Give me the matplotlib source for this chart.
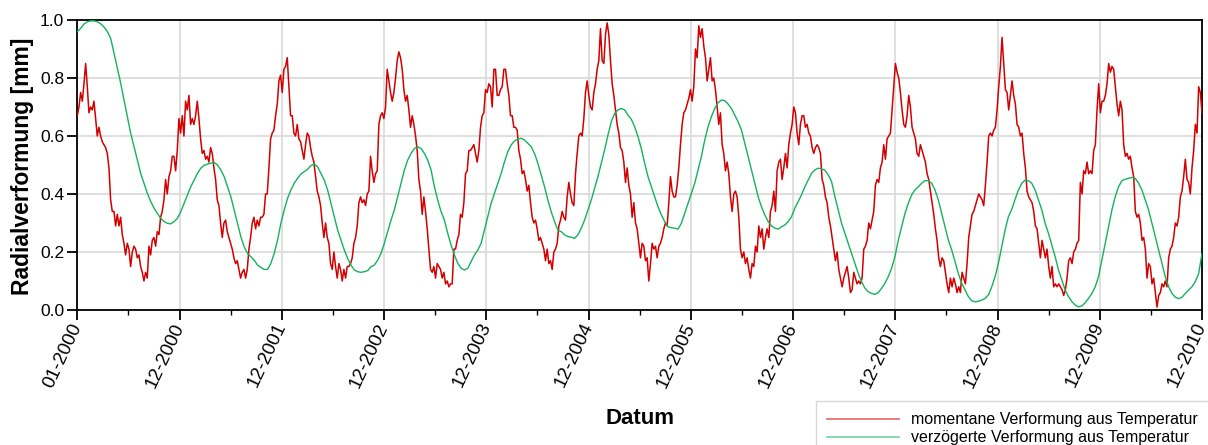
import numpy as np
import matplotlib
matplotlib.use("Agg")
import matplotlib.pyplot as plt
from matplotlib.lines import Line2D

plt.rcParams["font.family"] = ["Liberation Sans", "DejaVu Sans"]

# momentary radial deformation from temperature [mm], evenly sampled 01-2000 .. end of 2010
radial_now = [
    0.67, 0.70, 0.75, 0.72, 0.78, 0.85, 0.77, 0.68, 0.70, 0.69, 0.72, 0.66, 0.60, 0.63, 0.60,
    0.58, 0.57, 0.56, 0.54, 0.49, 0.38, 0.34, 0.34, 0.29, 0.33, 0.29, 0.32, 0.26, 0.23, 0.19,
    0.23, 0.21, 0.15, 0.20, 0.22, 0.21, 0.18, 0.19, 0.15, 0.13, 0.10, 0.13, 0.11, 0.22, 0.19,
    0.24, 0.25, 0.22, 0.27, 0.26, 0.32, 0.34, 0.38, 0.45, 0.40, 0.46, 0.48, 0.53, 0.53, 0.48,
    0.55, 0.66, 0.61, 0.67, 0.60, 0.72, 0.69, 0.74, 0.64, 0.66, 0.64, 0.67, 0.72, 0.66, 0.59,
    0.54, 0.55, 0.52, 0.53, 0.51, 0.56, 0.54, 0.49, 0.45, 0.38, 0.36, 0.30, 0.25, 0.30, 0.31,
    0.27, 0.25, 0.23, 0.21, 0.18, 0.16, 0.17, 0.14, 0.11, 0.13, 0.14, 0.11, 0.14, 0.21, 0.25,
    # 2001
    0.30, 0.32, 0.28, 0.31, 0.29, 0.32, 0.32, 0.33, 0.40, 0.40,
    0.49, 0.59, 0.61, 0.62, 0.67, 0.71, 0.79, 0.81, 0.75, 0.83,
    0.84, 0.87, 0.77, 0.67, 0.67, 0.61, 0.60, 0.64, 0.59, 0.58,
    0.55, 0.52, 0.57, 0.61, 0.60, 0.56, 0.53, 0.51, 0.46, 0.41,
    0.39, 0.36, 0.30, 0.25, 0.30, 0.25, 0.23, 0.16, 0.14, 0.20,
    0.15, 0.11, 0.16, 0.14, 0.10, 0.14, 0.11, 0.15, 0.15, 0.16,
    0.18, 0.23, 0.25, 0.29, 0.37, 0.39, 0.37, 0.38, 0.36, 0.40,
    0.41, 0.53, 0.48, 0.44, 0.47, 0.48, 0.64, 0.67, 0.68, 0.66,
    0.70, 0.83, 0.79, 0.75, 0.72, 0.75, 0.80, 0.86, 0.89, 0.87,
    0.83, 0.76, 0.72, 0.74, 0.69, 0.63, 0.67, 0.64, 0.60, 0.55,
    0.45, 0.41, 0.33, 0.39, 0.34, 0.28, 0.21, 0.14, 0.13, 0.15,
    0.11, 0.16, 0.15, 0.14,
    # 2003
    0.11, 0.13, 0.09, 0.10, 0.08, 0.09, 0.09, 0.21, 0.21, 0.24,
    0.26, 0.33, 0.32, 0.37, 0.47, 0.48, 0.55, 0.55, 0.56, 0.57,
    0.54, 0.51, 0.55, 0.63, 0.67, 0.68, 0.76, 0.75, 0.78, 0.77,
    0.70, 0.83, 0.83, 0.74, 0.74, 0.76, 0.77, 0.83, 0.83, 0.78,
    0.74, 0.67, 0.67, 0.63, 0.63, 0.62, 0.55, 0.52, 0.47, 0.48,
    0.45, 0.41, 0.43, 0.37, 0.32, 0.30, 0.31, 0.28, 0.24, 0.25,
    0.23, 0.21, 0.17, 0.21, 0.16, 0.17, 0.14, 0.20, 0.21, 0.23,
    0.29, 0.31, 0.34, 0.32, 0.31, 0.39, 0.44, 0.40, 0.37, 0.36,
    0.47, 0.54, 0.60, 0.61, 0.60, 0.66, 0.75, 0.79, 0.74, 0.70,
    0.69, 0.75, 0.78, 0.83, 0.86, 0.97, 0.86, 0.85, 0.95, 0.99,
    0.95, 0.86, 0.78, 0.74, 0.69, 0.64, 0.61, 0.56, 0.55, 0.51,
    0.44, 0.49, 0.43, 0.40, 0.32, 0.37, 0.30, 0.28, 0.23, 0.18,
    # 2005
    0.23, 0.22, 0.17, 0.18, 0.10, 0.16, 0.23, 0.21, 0.22, 0.18,
    0.22, 0.23, 0.25, 0.28, 0.30, 0.29, 0.37, 0.46, 0.41, 0.39,
    0.39, 0.43, 0.49, 0.57, 0.64, 0.68, 0.69, 0.71, 0.73, 0.76,
    0.72, 0.77, 0.90, 0.87, 0.98, 0.94, 0.97, 0.91, 0.87, 0.79,
    0.83, 0.87, 0.79, 0.80, 0.76, 0.70, 0.64, 0.68, 0.57, 0.54,
    0.48, 0.51, 0.47, 0.39, 0.34, 0.40, 0.41, 0.39, 0.32, 0.21,
    0.18, 0.20, 0.16, 0.18, 0.14, 0.11, 0.16, 0.15, 0.22, 0.20,
    0.29, 0.25, 0.28, 0.21, 0.25, 0.28, 0.25, 0.34, 0.36, 0.41,
    0.34, 0.48, 0.51, 0.52, 0.45, 0.49, 0.54, 0.49, 0.57, 0.61,
    0.64, 0.70, 0.68, 0.61, 0.57, 0.64, 0.67, 0.67, 0.63, 0.64,
    0.61, 0.60, 0.56, 0.54, 0.56, 0.57, 0.56, 0.54, 0.45, 0.43,
    0.39, 0.37, 0.32, 0.29,
    # 2007
    0.25, 0.21, 0.17, 0.20, 0.14, 0.11, 0.08, 0.11, 0.13, 0.15,
    0.11, 0.06, 0.07, 0.13, 0.11, 0.09, 0.10, 0.09, 0.11, 0.21,
    0.22, 0.24, 0.30, 0.28, 0.31, 0.34, 0.43, 0.45, 0.44, 0.49,
    0.51, 0.57, 0.52, 0.59, 0.60, 0.61, 0.69, 0.77, 0.85, 0.82,
    0.80, 0.75, 0.69, 0.64, 0.63, 0.67, 0.74, 0.70, 0.63, 0.61,
    0.59, 0.54, 0.53, 0.57, 0.55, 0.53, 0.51, 0.47, 0.45, 0.41,
    0.37, 0.33, 0.28, 0.24, 0.18, 0.15, 0.18, 0.17, 0.13, 0.09,
    0.06, 0.11, 0.08, 0.11, 0.09, 0.06, 0.08, 0.06, 0.13, 0.11,
    0.09, 0.16, 0.25, 0.29, 0.33, 0.34, 0.36, 0.38, 0.40, 0.39,
    0.38, 0.36, 0.43, 0.51, 0.60, 0.61, 0.60, 0.62, 0.63, 0.69,
    0.77, 0.84, 0.94, 0.85, 0.76, 0.75, 0.69, 0.74, 0.79, 0.74,
    0.71, 0.64, 0.63, 0.60,
    # 2009
    0.61, 0.54, 0.49, 0.41, 0.39, 0.38, 0.37, 0.34, 0.29, 0.28,
    0.23, 0.18, 0.24, 0.21, 0.18, 0.21, 0.15, 0.11, 0.15, 0.08,
    0.09, 0.08, 0.09, 0.08, 0.07, 0.05, 0.07, 0.11, 0.17, 0.18,
    0.16, 0.20, 0.21, 0.23, 0.24, 0.44, 0.40, 0.48, 0.47, 0.51,
    0.47, 0.48, 0.47, 0.55, 0.57, 0.69, 0.78, 0.68, 0.72, 0.72,
    0.74, 0.78, 0.85, 0.82, 0.84, 0.83, 0.77, 0.71, 0.67, 0.72,
    0.69, 0.57, 0.53, 0.54, 0.52, 0.53, 0.49, 0.46, 0.34, 0.32,
    0.33, 0.30, 0.24, 0.25, 0.21, 0.11, 0.16, 0.15, 0.09, 0.11,
    0.06, 0.01, 0.05, 0.06, 0.09, 0.08, 0.10, 0.08, 0.18, 0.21,
    0.22, 0.25, 0.30, 0.29, 0.32, 0.39, 0.41, 0.46, 0.52, 0.45,
    0.44, 0.40, 0.49, 0.55, 0.64, 0.61, 0.77, 0.75, 0.68,
]

# delayed radial deformation from temperature [mm], evenly sampled over the same period
radial_lagged = [
    0.960,
    0.971, 0.986, 0.994, 0.997, 0.997, 0.994, 0.987, 0.976, 0.960, 0.937,
    0.885, 0.833, 0.782, 0.724, 0.667, 0.609, 0.563, 0.517, 0.471, 0.437,
    0.402, 0.374, 0.351, 0.333, 0.316, 0.305, 0.299, 0.297, 0.305, 0.316,
    0.339, 0.368, 0.397, 0.425, 0.448, 0.471, 0.489, 0.499, 0.503, 0.506,
    0.509, 0.500, 0.483, 0.460, 0.425, 0.391, 0.345, 0.299, 0.253, 0.218,
    0.195, 0.184,
    0.172, 0.155, 0.147, 0.140, 0.140, 0.161, 0.195, 0.241, 0.299, 0.345,
    0.385, 0.414, 0.437, 0.454, 0.469, 0.477, 0.485, 0.498, 0.503, 0.494,
    0.471, 0.448, 0.414, 0.368, 0.322, 0.276, 0.241, 0.207, 0.178, 0.155,
    0.138, 0.132, 0.130, 0.132, 0.136, 0.149, 0.155, 0.172, 0.195, 0.230,
    0.270, 0.310, 0.345, 0.391, 0.437, 0.483, 0.517, 0.540, 0.557, 0.563,
    0.557, 0.540, 0.517, 0.483, 0.425, 0.379, 0.339,
    0.310, 0.264, 0.224, 0.190, 0.161, 0.144, 0.138, 0.144, 0.167, 0.190,
    0.207, 0.230, 0.276, 0.322, 0.368, 0.402, 0.437, 0.471, 0.511, 0.546,
    0.569, 0.583, 0.590, 0.592, 0.586, 0.575, 0.563, 0.540, 0.506, 0.466,
    0.425, 0.379, 0.339, 0.305, 0.276, 0.270, 0.259, 0.253, 0.251, 0.247,
    0.259, 0.282, 0.310, 0.345, 0.379, 0.420, 0.460, 0.506, 0.552, 0.603,
    0.649, 0.678, 0.690, 0.695, 0.690, 0.672, 0.658,
    0.632, 0.598, 0.557, 0.506, 0.460, 0.425, 0.391, 0.356, 0.328, 0.305,
    0.287, 0.284, 0.282, 0.279, 0.299, 0.333, 0.368, 0.402, 0.437, 0.483,
    0.529, 0.586, 0.632, 0.667, 0.695, 0.715, 0.724, 0.722, 0.710, 0.695,
    0.672, 0.649, 0.621, 0.575, 0.529, 0.483, 0.437, 0.391, 0.356, 0.328,
    0.305, 0.290, 0.282, 0.279, 0.287, 0.293, 0.305, 0.322, 0.351, 0.374,
    0.397, 0.425, 0.448, 0.471, 0.483, 0.489, 0.487,
    0.482, 0.466, 0.443, 0.391, 0.345, 0.299, 0.264, 0.230, 0.195, 0.161,
    0.126, 0.098, 0.075, 0.063, 0.057, 0.054, 0.060, 0.075, 0.092, 0.115,
    0.144, 0.184, 0.241, 0.287, 0.333, 0.368, 0.397, 0.414, 0.425, 0.437,
    0.446, 0.446, 0.437, 0.414, 0.379, 0.333, 0.287, 0.241, 0.207, 0.167,
    0.126, 0.092, 0.069, 0.046, 0.032, 0.028, 0.030, 0.034, 0.040, 0.052,
    0.080, 0.115, 0.161, 0.218, 0.276, 0.322, 0.347,
    0.382, 0.414, 0.437, 0.448, 0.446, 0.437, 0.414, 0.379, 0.345, 0.299,
    0.264, 0.224, 0.184, 0.138, 0.103, 0.069, 0.046, 0.029, 0.017, 0.011,
    0.014, 0.025, 0.040, 0.057, 0.080, 0.115, 0.172, 0.230, 0.287, 0.345,
    0.391, 0.425, 0.446, 0.451, 0.454, 0.457, 0.454, 0.437, 0.414, 0.379,
    0.345, 0.299, 0.253, 0.207, 0.161, 0.115, 0.080, 0.057, 0.044, 0.039,
    0.044, 0.057, 0.069, 0.080, 0.098, 0.126, 0.195,
]

year_ticks = [2000, 2001, 2002, 2003, 2004, 2005, 2006, 2007, 2008, 2009, 2010, 2011]
year_tick_labels = ["01-2000", "12-2000", "12-2001", "12-2002", "12-2003", "12-2004",
                    "12-2005", "12-2006", "12-2007", "12-2008", "12-2009", "12-2010"]
value_ticks = [0.0, 0.2, 0.4, 0.6, 0.8, 1.0]
series_labels = ["momentane Verformung aus Temperatur",
                 "verzögerte Verformung aus Temperatur"]

red = "#d20000"
green = "#14b25c"

t_now = np.linspace(2000.0, 2011.0, len(radial_now))
t_lag = np.linspace(2000.0, 2011.0, len(radial_lagged))

W, H = 1208, 445
fig = plt.figure(figsize=(W / 100, H / 100), dpi=100)
ax = fig.add_axes([77.3 / W, 1 - 310 / H, (1202 - 77.3) / W, 290 / H])

ax.plot(t_now, radial_now, color=red, lw=1.1, zorder=3)
ax.plot(t_lag, radial_lagged, color=green, lw=1.0, zorder=3)

ax.set_xlim(2000, 2011)
ax.set_ylim(0, 1)
ax.set_xticks(year_ticks)
ax.set_xticklabels(year_tick_labels, rotation=65, ha="right", va="center",
                   rotation_mode="anchor", fontsize=13.5)
ax.set_xticks([y + 0.5 for y in year_ticks[:-1]], minor=True)
ax.set_yticks(value_ticks)
ax.set_yticklabels([f"{v:.1f}" for v in value_ticks], fontsize=12.5)

ax.grid(True, which="major", color="#d9d9d9", lw=1.2, zorder=0)
ax.set_axisbelow(True)
for s in ax.spines.values():
    s.set_color("black")
    s.set_linewidth(1.3)

ax.tick_params(axis="x", which="major", direction="out", length=7, width=1.3, pad=3)
ax.tick_params(axis="x", which="minor", direction="out", length=3.5, width=1.0)
ax.tick_params(axis="y", which="major", direction="out", length=7, width=1.3, pad=2.5)

ax.set_xlabel("Datum", fontsize=16, fontweight="bold")
ax.xaxis.set_label_coords(0.5, (310 - 418) / 290)
ax.xaxis.label.set_va("center")
ax.set_ylabel("Radialverformung [mm]", fontsize=16.5, fontweight="bold")
ax.yaxis.set_label_coords((23 - 77.3) / 1124.7, 0.497)
ax.yaxis.label.set_va("center")

handles = [Line2D([], [], color=red, lw=1.2, alpha=0.6),
           Line2D([], [], color=green, lw=1.2, alpha=0.6)]
leg = fig.legend(handles, series_labels, loc="upper left",
                 bbox_to_anchor=(816 / W, 1 - 401 / H), bbox_transform=fig.transFigure,
                 frameon=True, fancybox=False, edgecolor="#d0d0d0", fontsize=11.5,
                 handlelength=4.5, handletextpad=0.75, labelspacing=0.2,
                 borderpad=0.7, borderaxespad=0)
leg.get_frame().set_linewidth(1.0)

fig.savefig("out.png", dpi=100)
